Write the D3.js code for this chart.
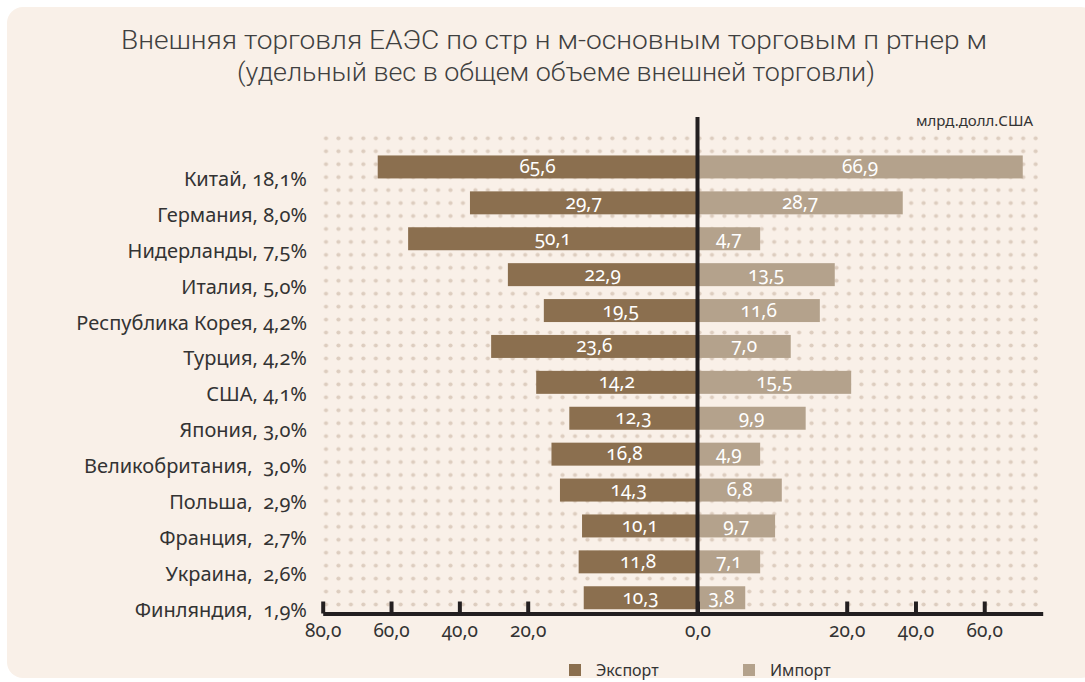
<!DOCTYPE html>
<html>
<head>
<meta charset="utf-8">
<script src="https://cdn.jsdelivr.net/npm/d3@7"></script>
<style>
  body { margin: 0; background: #ffffff; }
  svg { display: block; }
  .num { font-variant-numeric: oldstyle-nums; font-feature-settings: "onum" 1; }
</style>
</head>
<body>
<div id="chart"></div>
<script>
// countries with share of total foreign trade
var countries = ["Китай, 18,1%", "Германия, 8,0%", "Нидерланды, 7,5%", "Италия, 5,0%",
  "Республика Корея, 4,2%", "Турция, 4,2%", "США, 4,1%", "Япония, 3,0%",
  "Великобритания,  3,0%", "Польша,  2,9%", "Франция,  2,7%", "Украина,  2,6%", "Финляндия,  1,9%"];

// printed values, bln USD
var exportLabels = ["65,6", "29,7", "50,1", "22,9", "19,5", "23,6", "14,2", "12,3", "16,8", "14,3", "10,1", "11,8", "10,3"];
var importLabels = ["66,9", "28,7", "4,7", "13,5", "11,6", "7,0", "15,5", "9,9", "4,9", "6,8", "9,7", "7,1", "3,8"];

// bar lengths as read against the chart's own axis
var exportBars = [63.9, 36.9, 55.0, 25.8, 18.1, 30.7, 19.0, 15.1, 17.2, 16.2, 13.6, 14.0, 13.4];
var importBars = [71.2, 36.3, 8.4, 18.4, 16.4, 12.5, 21.3, 14.5, 8.4, 11.3, 10.4, 8.4, 6.4];

// axis ticks
var tickValues = [-80, -60, -40, -20, 0, 20, 40, 60];
var tickLabels = ["80,0", "60,0", "40,0", "20,0", "0,0", "20,0", "40,0", "60,0"];

var seriesNames = ["Экспорт", "Импорт"];
var colors = ["#8b6f4f", "#b4a28c"];

var width = 1085, height = 682;
var font = "'Noto Sans', 'DejaVu Sans', sans-serif";

var svg = d3.select("#chart").append("svg")
  .attr("width", width)
  .attr("height", height);

// panel
svg.append("rect")
  .attr("x", 7).attr("y", 7)
  .attr("width", 1090).attr("height", 671)
  .attr("rx", 16)
  .attr("fill", "#f9f0e8");

// dotted background
var defs = svg.append("defs");
var pat = defs.append("pattern")
  .attr("id", "dots")
  .attr("patternUnits", "userSpaceOnUse")
  .attr("width", 12.45).attr("height", 12.95)
  .attr("x", 326 - 6.225).attr("y", 138.3 - 6.475);
pat.append("circle")
  .attr("cx", 6.225).attr("cy", 6.475).attr("r", 2.1)
  .attr("fill", "#ddcdbf");

svg.append("rect")
  .attr("x", 320).attr("y", 132)
  .attr("width", 723).attr("height", 478)
  .attr("fill", "url(#dots)");

// title
var title = svg.append("g")
  .attr("font-family", "Roboto, 'Open Sans', sans-serif")
  .attr("font-weight", 300)
  .attr("font-size", 26)
  .attr("fill", "#404040")
  .attr("text-anchor", "middle");
title.append("text")
  .attr("x", 554).attr("y", 49)
  .attr("textLength", 866).attr("lengthAdjust", "spacingAndGlyphs")
  .text("Внешняя торговля ЕАЭС по стр н м-основным торговым п ртнер м");
title.append("text")
  .attr("x", 556).attr("y", 81)
  .attr("textLength", 638).attr("lengthAdjust", "spacingAndGlyphs")
  .text("(удельный вес в общем объеме внешней торговли)");

// scales
var x = d3.scaleLinear()
  .domain([-80, -20, 0, 20, 77])
  .range([322.7, 527.7, 697.5, 846.7, 1042.7]);

var y = d3.scaleBand()
  .domain(countries)
  .range([149, 615.7])
  .paddingInner(0.36)
  .paddingOuter(0.18);

var x0 = x(0);

// export bars
svg.append("g").selectAll("rect")
  .data(exportBars)
  .join("rect")
  .attr("x", function (d) { return x(-d); })
  .attr("y", function (d, i) { return y(countries[i]); })
  .attr("width", function (d) { return x0 - x(-d); })
  .attr("height", y.bandwidth())
  .attr("fill", colors[0]);

// import bars
svg.append("g").selectAll("rect")
  .data(importBars)
  .join("rect")
  .attr("x", x0)
  .attr("y", function (d, i) { return y(countries[i]); })
  .attr("width", function (d) { return x(d) - x0; })
  .attr("height", y.bandwidth())
  .attr("fill", colors[1]);

// value labels
svg.append("g").selectAll("text")
  .data(exportBars)
  .join("text")
  .attr("class", "num")
  .attr("x", function (d) { return (x(-d) + x0) / 2; })
  .attr("y", function (d, i) { return y(countries[i]) + y.bandwidth() / 2 + 6; })
  .attr("text-anchor", "middle")
  .attr("font-family", font)
  .attr("font-size", 19)
  .attr("fill", "#ffffff")
  .text(function (d, i) { return exportLabels[i]; });

svg.append("g").selectAll("text")
  .data(importBars)
  .join("text")
  .attr("class", "num")
  .attr("x", function (d) { return (x(d) + x0) / 2; })
  .attr("y", function (d, i) { return y(countries[i]) + y.bandwidth() / 2 + 6; })
  .attr("text-anchor", "middle")
  .attr("font-family", font)
  .attr("font-size", 19)
  .attr("fill", "#ffffff")
  .text(function (d, i) { return importLabels[i]; });

// category labels
svg.append("g").selectAll("text")
  .data(countries)
  .join("text")
  .attr("class", "num")
  .attr("x", 307)
  .attr("y", function (d) { return y(d) + y.bandwidth() / 2 + 19; })
  .attr("text-anchor", "end")
  .attr("font-family", font)
  .attr("font-size", 20)
  .attr("fill", "#333333")
  .style("white-space", "pre")
  .text(function (d) { return d; });

// x axis
var axisY = 613.5;
var axis = svg.append("g")
  .attr("transform", "translate(0," + axisY + ")")
  .call(d3.axisBottom(x)
    .tickValues(tickValues)
    .tickFormat(function (d, i) { return tickLabels[i]; })
    .tickSize(-12)
    .tickSizeOuter(0));

axis.select(".domain")
  .attr("stroke", "#231f20")
  .attr("stroke-width", 4);
axis.selectAll(".tick line")
  .attr("stroke", "#231f20")
  .attr("stroke-width", 4);
axis.selectAll(".tick text")
  .attr("class", "num")
  .attr("y", 23)
  .attr("dy", 0)
  .attr("font-family", font)
  .attr("font-size", 19)
  .attr("fill", "#333333");

// zero line
svg.append("line")
  .attr("x1", x0).attr("x2", x0)
  .attr("y1", 117).attr("y2", axisY + 2)
  .attr("stroke", "#231f20")
  .attr("stroke-width", 4);

// units
svg.append("text")
  .attr("x", 1033).attr("y", 126)
  .attr("text-anchor", "end")
  .attr("font-family", font)
  .attr("font-size", 15)
  .attr("fill", "#333333")
  .text("млрд.долл.США");

// legend
var legendX = [569, 743];
var legend = svg.append("g").selectAll("g")
  .data(seriesNames)
  .join("g")
  .attr("transform", function (d, i) { return "translate(" + legendX[i] + ",664)"; });
legend.append("rect")
  .attr("width", 12).attr("height", 12)
  .attr("fill", function (d, i) { return colors[i]; });
legend.append("text")
  .attr("x", 27).attr("y", 12)
  .attr("font-family", font)
  .attr("font-size", 16)
  .attr("fill", "#333333")
  .text(function (d) { return d; });
</script>
</body>
</html>
